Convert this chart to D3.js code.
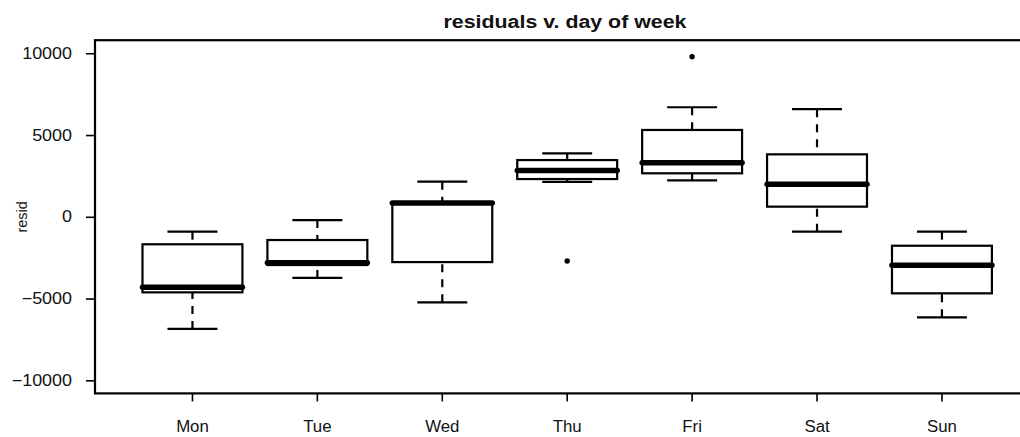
<!DOCTYPE html>
<html>
<head>
<meta charset="utf-8">
<script src="https://cdn.jsdelivr.net/npm/d3@7"></script>
<style>
  html, body { margin: 0; padding: 0; background: #fff; }
  svg { display: block; }
  text { font-family: "Liberation Sans", Arial, sans-serif; fill: #111; }
</style>
</head>
<body>
<svg id="chart" width="1020" height="437"></svg>
<script>
const days = ["Mon", "Tue", "Wed", "Thu", "Fri", "Sat", "Sun"];
const lowerWhisker = [-6860, -3740, -5230, 2130, 2230, -910, -6150];
const q1 = [-4620, -2950, -2770, 2310, 2660, 620, -4680];
const median = [-4310, -2810, 840, 2830, 3310, 1990, -2970];
const q3 = [-1680, -1420, 870, 3470, 5310, 3820, -1770];
const upperWhisker = [-910, -200, 2150, 3880, 6700, 6580, -910];
const outlierDays = ["Thu", "Fri"];
const outlierValues = [-2700, 9790];
const yTicks = [-10000, -5000, 0, 5000, 10000];
const yDomain = [-10800, 10800];
const title = "residuals v. day of week";
const yLabel = "resid";

const svg = d3.select("#chart");
const frame = { left: 95, right: 1039, top: 40.2, bottom: 393.4 };

const x = d3.scaleBand().domain(days).range([130, 1004.4]).paddingInner(0).paddingOuter(0);
const y = d3.scaleLinear().domain(yDomain).range([frame.bottom, frame.top]);
const cx = d => x(d) + x.bandwidth() / 2;
const boxW = x.bandwidth() * 0.8;
const capW = boxW * 0.5;

function stretch(sel, f) {
  sel.each(function () {
    const len = this.getComputedTextLength();
    d3.select(this).attr("textLength", len * f).attr("lengthAdjust", "spacingAndGlyphs");
  });
}

const data = days.map((d, i) => ({
  day: d, lo: lowerWhisker[i], q1: q1[i], med: median[i], q3: q3[i], hi: upperWhisker[i]
}));

const g = svg.append("g");

// whiskers (dashed)
g.selectAll(".wlo").data(data).join("line")
  .attr("x1", d => cx(d.day)).attr("x2", d => cx(d.day))
  .attr("y1", d => y(d.lo)).attr("y2", d => y(d.q1))
  .attr("stroke", "#000").attr("stroke-width", 2.2).attr("stroke-dasharray", "8,7");
g.selectAll(".whi").data(data).join("line")
  .attr("x1", d => cx(d.day)).attr("x2", d => cx(d.day))
  .attr("y1", d => y(d.hi)).attr("y2", d => y(d.q3))
  .attr("stroke", "#000").attr("stroke-width", 2.2).attr("stroke-dasharray", "8,7");

// caps
["lo", "hi"].forEach(k => {
  g.selectAll(".cap" + k).data(data).join("line")
    .attr("x1", d => cx(d.day) - capW / 2).attr("x2", d => cx(d.day) + capW / 2)
    .attr("y1", d => y(d[k])).attr("y2", d => y(d[k]))
    .attr("stroke", "#000").attr("stroke-width", 2.2);
});

// boxes
g.selectAll(".box").data(data).join("rect")
  .attr("x", d => cx(d.day) - boxW / 2)
  .attr("width", boxW)
  .attr("y", d => y(d.q3))
  .attr("height", d => y(d.q1) - y(d.q3))
  .attr("fill", "#fff").attr("stroke", "#000").attr("stroke-width", 2.2);

// medians
g.selectAll(".med").data(data).join("line")
  .attr("x1", d => cx(d.day) - boxW / 2).attr("x2", d => cx(d.day) + boxW / 2)
  .attr("y1", d => y(d.med)).attr("y2", d => y(d.med))
  .attr("stroke", "#000").attr("stroke-width", 5.5).attr("stroke-linecap", "round");

// outliers
g.selectAll(".out").data(outlierDays.map((d, i) => ({ day: d, v: outlierValues[i] }))).join("circle")
  .attr("cx", d => cx(d.day)).attr("cy", d => y(d.v)).attr("r", 2.7).attr("fill", "#000");

// frame
svg.append("rect")
  .attr("x", frame.left).attr("y", frame.top)
  .attr("width", frame.right - frame.left).attr("height", frame.bottom - frame.top)
  .attr("fill", "none").attr("stroke", "#000").attr("stroke-width", 2.2);

// y axis
const yAxis = d3.axisLeft(y).tickValues(yTicks).tickSize(9).tickPadding(14).tickFormat(d3.format("d"));
const ya = svg.append("g").attr("transform", `translate(${frame.left},0)`).call(yAxis);
ya.select(".domain").remove();
ya.selectAll(".tick line").attr("stroke", "#000").attr("stroke-width", 1.6);
ya.selectAll(".tick text").attr("font-size", 16).attr("fill", "#111")
  .style("font-family", '"Liberation Sans", Arial, sans-serif');
stretch(ya.selectAll(".tick text"), 1.12);

// x axis
const xAxis = d3.axisBottom(x).tickSize(8).tickPadding(19);
const xa = svg.append("g").attr("transform", `translate(0,${frame.bottom})`).call(xAxis);
xa.select(".domain").remove();
xa.selectAll(".tick line").attr("stroke", "#000").attr("stroke-width", 1.6);
xa.selectAll(".tick text").attr("font-size", 16).attr("fill", "#111")
  .style("font-family", '"Liberation Sans", Arial, sans-serif');
stretch(xa.selectAll(".tick text"), 1.05);

// title
const t = svg.append("text")
  .attr("x", 565).attr("y", 28)
  .attr("text-anchor", "middle")
  .attr("font-size", 17.5).attr("font-weight", "bold")
  .text(title);
stretch(t, 1.22);

// y label
const yl = svg.append("text")
  .attr("transform", `translate(27,${(frame.top + frame.bottom) / 2}) rotate(-90)`)
  .attr("text-anchor", "middle")
  .attr("font-size", 14.5)
  .text(yLabel);
</script>
</body>
</html>
